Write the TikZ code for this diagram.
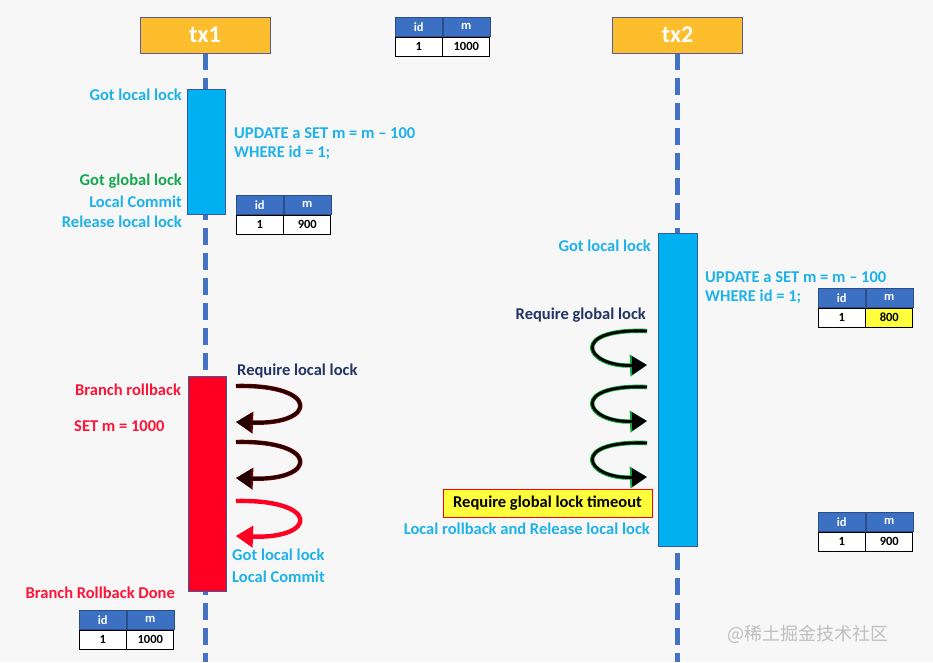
\documentclass[tikz,border=0pt]{standalone}
\usepackage{fontspec}
\setmainfont{Carlito}
\newfontfamily\cjk{Noto Sans CJK SC}
\usetikzlibrary{arrows.meta}
\definecolor{bg}{RGB}{247,247,248}
\definecolor{orng}{RGB}{252,190,45}
\definecolor{lifeblue}{RGB}{68,114,196}
\definecolor{actblue}{RGB}{0,176,240}
\definecolor{hblue}{RGB}{60,112,194}
\definecolor{cyantxt}{RGB}{30,178,234}
\definecolor{greentxt}{RGB}{20,168,76}
\definecolor{navytxt}{RGB}{36,52,100}
\definecolor{redtxt}{RGB}{255,20,55}
\definecolor{redbox}{RGB}{255,0,34}
\definecolor{ogreen}{RGB}{20,170,60}
\definecolor{darkred}{RGB}{110,0,0}
\definecolor{yell}{RGB}{255,255,60}
\newcommand\dbtab[5]{%
  \node[thead, anchor=north west] (#1h1) at (#2,#3) {id};
  \node[thead, anchor=west] (#1h2) at (#1h1.east) {m};
  \node[tcell, anchor=north] (#1c1) at (#1h1.south) {1};
  \node[tcell, anchor=north, fill=#5] (#1c2) at (#1h2.south) {#4};
}
\begin{document}
\begin{tikzpicture}[x=1pt,y=-1pt,
  txbox/.style={draw=gray!70!blue, line width=0.6pt, fill=orng, minimum width=130pt, minimum height=36pt, inner sep=0pt, text=white, font=\fontsize{24}{26}\bfseries\selectfont},
  lifeline/.style={lifeblue, line width=5pt, dash pattern=on 17pt off 8pt},
  actbox/.style={draw=lifeblue!80!black, line width=0.6pt, inner sep=0pt},
  thead/.style={fill=hblue, draw=hblue!70!black, line width=0.5pt, text=white, minimum width=47pt, minimum height=19pt, inner sep=0pt, font=\fontsize{12.5}{13}\bfseries\selectfont},
  tcell/.style={fill=white, draw=black, line width=0.9pt, minimum width=47pt, minimum height=19pt, inner sep=0pt, font=\fontsize{12.5}{13}\bfseries\selectfont},
  lbl/.style={inner sep=0pt, text height=11pt, text depth=3pt, font=\fontsize{16.5}{18}\bfseries\selectfont},
  outer/.style={line width=4.4pt, -{Triangle[length=17pt,width=21pt]}},
  inner/.style={line width=2.8pt, -{Triangle[length=15pt,width=18pt]}}
]
\fill[bg] (0,0) rectangle (933,662);
\useasboundingbox (0,0) rectangle (933,662);

% headers and lifelines
\coordinate (top1) at (205,53);
\coordinate (top2) at (677,53);
\coordinate (bot1) at (205,662);
\coordinate (bot2) at (677,662);
\draw[lifeline] (top1) -- (bot1);
\draw[lifeline] (top2) -- (bot2);
\node[txbox] (tx1) at (205,35) {tx1};
\node[txbox] (tx2) at (677.5,35) {tx2};

% activation boxes
\node[actbox, fill=actblue, minimum width=38pt, minimum height=125pt] (a1) at (206,151.5) {};
\node[actbox, fill=actblue, minimum width=39pt, minimum height=313pt] (a2) at (677.5,389.5) {};
\node[actbox, fill=redbox, minimum width=38pt, minimum height=215pt] (r1) at (207,483.5) {};

% tables
\dbtab{t0}{395}{17}{1000}{white}
\dbtab{t1}{236}{195}{900}{white}
\dbtab{t2}{818}{288}{800}{yell}
\dbtab{t3}{818}{512}{900}{white}
\dbtab{t4}{79}{610}{1000}{white}

% tx1 labels
\node[lbl, text=cyantxt, anchor=east] (l1) at (182,96) {Got local lock};
\node[lbl, text=cyantxt, anchor=west] (l2) at (234,134) {UPDATE a SET m = m – 100};
\node[lbl, text=cyantxt, anchor=west] (l3) at (234,153) {WHERE id = 1;};
\node[lbl, text=greentxt, anchor=east] (l4) at (182,181) {Got global lock};
\node[lbl, text=cyantxt, anchor=east] (l5) at (182,203) {Local Commit};
\node[lbl, text=cyantxt, anchor=east] (l6) at (182,223) {Release local lock};

% tx2 labels
\node[lbl, text=cyantxt, anchor=east] (m1) at (651,247) {Got local lock};
\node[lbl, text=cyantxt, anchor=west] (m2) at (705,278) {UPDATE a SET m = m – 100};
\node[lbl, text=cyantxt, anchor=west] (m3) at (705,297) {WHERE id = 1;};
\node[lbl, text=navytxt, anchor=east] (m4) at (646,315) {Require global lock};
\node[lbl, draw=red, line width=1pt, fill=yell, text=black, minimum width=209pt, minimum height=28pt] (m5) at (547.5,503) {Require global lock timeout};
\node[lbl, text=cyantxt, anchor=east] (m6) at (650,530) {Local rollback and Release local lock};

% rollback labels
\node[lbl, text=navytxt, anchor=west] (n1) at (237,371) {Require local lock};
\node[lbl, text=redtxt, anchor=west] (n2) at (75,391) {Branch rollback};
\node[lbl, text=redtxt, anchor=west] (n3) at (74,427) {SET m = 1000};
\node[lbl, text=cyantxt, anchor=west] (n4) at (232,556) {Got local lock};
\node[lbl, text=cyantxt, anchor=west] (n5) at (232,578) {Local Commit};
\node[lbl, text=redtxt, anchor=east] (n6) at (175,594) {Branch Rollback Done};

% watermark
\node[anchor=west, inner sep=0pt, text=gray!50, font=\cjk\mdseries\fontsize{18}{20}\selectfont] (wm) at (727,634) {@稀土掘金技术社区};

% tx2 retry loops
\foreach \ys/\ye [count=\i] in {331/365, 387/421, 443/477}{
  \coordinate (gs\i) at (647,\ys);
  \coordinate (ge\i) at (647,\ye);
  \draw[outer, ogreen] (gs\i) .. controls (568,\ys-3) and (585,\ye+2) .. (ge\i);
  \draw[inner, black] (gs\i) .. controls (568,\ys-3) and (585,\ye+2) .. (ge\i);
}

% tx1 retry loops
\foreach \ys/\ye/\oc/\ic [count=\i] in {386/422/darkred/black!85!red, 442/478/darkred/black!85!red, 501/536/redbox/redbox}{
  \coordinate (rs\i) at (236,\ys);
  \coordinate (re\i) at (236,\ye);
  \draw[outer, \oc] (rs\i) .. controls (320,\ys-2) and (318,\ye+3) .. (re\i);
  \draw[inner, \ic] (rs\i) .. controls (320,\ys-2) and (318,\ye+3) .. (re\i);
}
\end{tikzpicture}
\end{document}
